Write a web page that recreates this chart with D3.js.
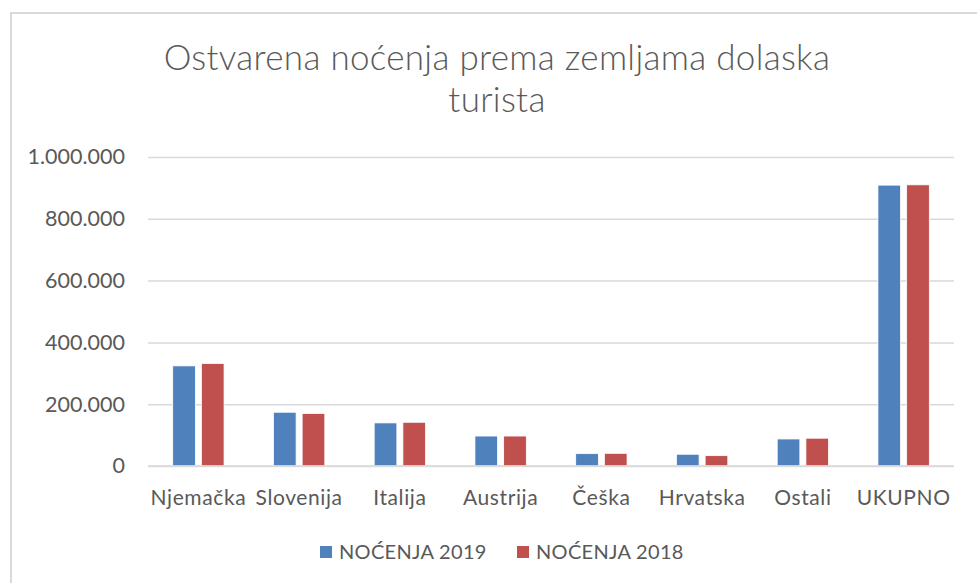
<!DOCTYPE html>
<html>
<head>
<meta charset="utf-8">
<script src="https://cdn.jsdelivr.net/npm/d3@7"></script>
<style>
  body { margin: 0; background: #fff; }
  text { font-family: Lato, "Open Sans", sans-serif; fill: #595959; }
</style>
</head>
<body>
<script>
// data
var categories = ["Njemačka", "Slovenija", "Italija", "Austrija", "Češka", "Hrvatska", "Ostali", "UKUPNO"];
var series = ["NOĆENJA 2019", "NOĆENJA 2018"];
var nocenja2019 = [324000, 174000, 139500, 97000, 40000, 38000, 87500, 909000];
var nocenja2018 = [332000, 170000, 141500, 97000, 41000, 33500, 90000, 910000];
var yTicks = [0, 200000, 400000, 600000, 800000, 1000000];
var colors = ["#4f81bd", "#c0504d"];

var width = 977, height = 583;
var plot = { left: 148, right: 954, top: 157, bottom: 466 };

var svg = d3.select("body").append("svg")
    .attr("width", width)
    .attr("height", height);

// chart border
svg.append("rect")
    .attr("x", 11)
    .attr("y", 13)
    .attr("width", width)
    .attr("height", height)
    .attr("fill", "none")
    .attr("stroke", "#d9d9d9")
    .attr("stroke-width", 2);

// title
var title = svg.append("text")
    .attr("text-anchor", "middle")
    .attr("font-size", 35)
    .style("letter-spacing", "0.3px")
    .style("font-weight", 300);
title.append("tspan").attr("x", 497).attr("y", 70).text("Ostvarena noćenja prema zemljama dolaska");
title.append("tspan").attr("x", 497).attr("y", 112).text("turista");

var x0 = d3.scaleBand()
    .domain(categories)
    .range([plot.left, plot.right])
    .padding(0);

var x1 = d3.scaleBand()
    .domain(series)
    .range([x0.bandwidth() * 0.245, x0.bandwidth() * 0.755])
    .paddingInner(0.21);

var y = d3.scaleLinear()
    .domain([0, 1000000])
    .range([plot.bottom, plot.top]);

var locale = d3.formatLocale({ decimal: ",", thousands: ".", grouping: [3], currency: ["", ""] });
var fmt = locale.format(",d");

// gridlines + y labels
var yAxis = svg.append("g")
    .attr("transform", "translate(" + plot.left + ",0)")
    .call(d3.axisLeft(y).tickValues(yTicks).tickFormat(fmt)
        .tickSize(-(plot.right - plot.left)).tickPadding(23));
yAxis.select(".domain").remove();
yAxis.selectAll("line").attr("stroke", "#d9d9d9").attr("stroke-width", 1.5);
yAxis.selectAll("text")
    .attr("font-size", 21.5)
    .style("font-family", "Lato, sans-serif")
    .attr("fill", "#595959");

// bars
var table = categories.map(function(c, i) {
    return { cat: c, values: [nocenja2019[i], nocenja2018[i]] };
});

var groups = svg.append("g").selectAll("g")
    .data(table)
    .enter().append("g")
    .attr("transform", function(d) { return "translate(" + x0(d.cat) + ",0)"; });

groups.selectAll("rect")
    .data(function(d) { return d.values.map(function(v, j) { return { s: series[j], v: v, j: j }; }); })
    .enter().append("rect")
    .attr("x", function(d) { return x1(d.s); })
    .attr("width", x1.bandwidth())
    .attr("y", function(d) { return y(d.v); })
    .attr("height", function(d) { return y(0) - y(d.v); })
    .attr("fill", function(d) { return colors[d.j]; })
    .attr("stroke", "#fff")
    .attr("stroke-width", 0.8);

// x axis line
svg.append("line")
    .attr("x1", plot.left).attr("x2", plot.right)
    .attr("y1", y(0)).attr("y2", y(0))
    .attr("stroke", "#d9d9d9").attr("stroke-width", 1.5);

// category labels
var xAxis = svg.append("g")
    .attr("transform", "translate(0," + plot.bottom + ")")
    .call(d3.axisBottom(x0).tickSize(0).tickPadding(24));
xAxis.select(".domain").remove();
xAxis.selectAll("text")
    .attr("font-size", 21)
    .style("font-family", "Lato, sans-serif")
    .style("letter-spacing", "0.6px")
    .attr("fill", "#595959");

// legend
var legendX = [320, 517];
var legend = svg.append("g").selectAll("g")
    .data(series)
    .enter().append("g")
    .attr("transform", function(d, i) { return "translate(" + legendX[i] + ",546)"; });
legend.append("rect")
    .attr("width", 12).attr("height", 12)
    .attr("fill", function(d, i) { return colors[i]; });
legend.append("text")
    .attr("x", 19).attr("y", 12.5)
    .attr("font-size", 20)
    .style("letter-spacing", "0.3px")
    .text(function(d) { return d; });
</script>
</body>
</html>
